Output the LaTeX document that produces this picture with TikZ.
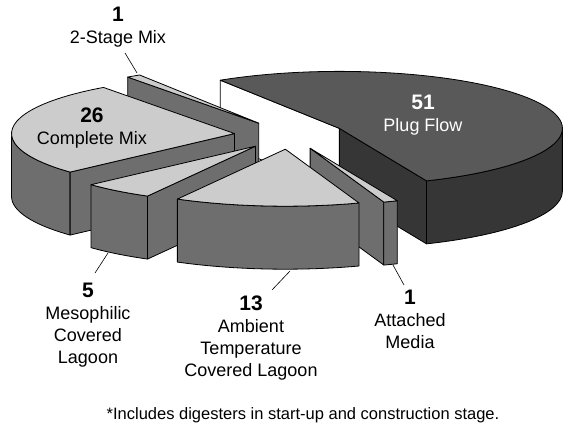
\documentclass[tikz,border=0pt]{standalone}
\usepackage{fontspec}
\setmainfont{Liberation Sans}
\definecolor{topgray}{gray}{0.80}
\definecolor{wallgray}{gray}{0.43}
\definecolor{plugtopgray}{gray}{0.35}
\definecolor{plugwallgray}{gray}{0.21}
\newcommand{\slicenum}[1]{{\fontsize{21}{22}\selectfont\bfseries #1}}

\begin{document}
\begin{tikzpicture}[x = 1pt, y = 1pt, line width = 0.8pt, line join = round,
	pie/.style = {x radius = 223pt, y radius = 57pt},
	topface/.style = {draw, fill = topgray},
	wallface/.style = {draw, fill = wallgray},
	plugtop/.style = {draw, fill = plugtopgray},
	plugwall/.style = {draw, fill = plugwallgray},
	cutface/.style = {draw, fill = white},
	slicelabel/.style = {align = center, inner sep = 0pt, anchor = north, font = \fontsize{18}{22}\selectfont},
	leader/.style = {line width = 0.6pt}]
	\useasboundingbox (0, 0) rectangle (580, 430);
	\coordinate (C) at (290, 295);
	\path (C) ++(27.64:55.75pt and 14.25pt) coordinate (plug);
	\path (C) ++(124.14:55.75pt and 14.25pt) coordinate (twostage);
	\path (C) ++(174.24:55.75pt and 14.25pt) coordinate (complete);
	\path (C) ++(231.77:55.75pt and 14.25pt) coordinate (meso);
	\path (C) ++(265.18:55.75pt and 14.25pt) coordinate (ambient);
	\path (C) ++(291.16:55.75pt and 14.25pt) coordinate (attached);
	% plug flow
	\draw[plugwall] (plug) -- ++(-67:223pt and 57pt) -- ++(0, -63) -- ++(113:223pt and 57pt) -- cycle;
	\draw[plugwall] (plug) ++(-67:223pt and 57pt) arc[pie, start angle = -67, end angle = 0] -- ++(0, -63) arc[pie, start angle = 0, end angle = -67] -- cycle;
	\draw[cutface] (plug) -- ++(122.28:223pt and 57pt) -- ++(0, -63) -- ++(302.28:223pt and 57pt) -- cycle;
	\draw[plugtop] (plug) -- ++(-67:223pt and 57pt) arc[pie, start angle = -67, end angle = 122.28] -- cycle;
	% 2-stage mix
	\draw[wallface] (twostage) -- ++(125.99:223pt and 57pt) -- ++(0, -63) -- ++(305.99:223pt and 57pt) -- cycle;
	\draw[topface] (twostage) -- ++(122.28:223pt and 57pt) arc[pie, start angle = 122.28, end angle = 125.99] -- cycle;
	% complete mix
	\draw[wallface] (complete) ++(180:223pt and 57pt) arc[pie, start angle = 180, end angle = 222.49] -- ++(0, -63) arc[pie, start angle = 222.49, end angle = 180] -- cycle;
	\draw[wallface] (complete) -- ++(222.49:223pt and 57pt) -- ++(0, -63) -- ++(42.49:223pt and 57pt) -- cycle;
	\draw[topface] (complete) -- ++(125.99:223pt and 57pt) arc[pie, start angle = 125.99, end angle = 222.49] -- cycle;
	% mesophilic lagoon
	\draw[wallface] (meso) ++(222.49:223pt and 57pt) arc[pie, start angle = 222.49, end angle = 241.05] -- ++(0, -63) arc[pie, start angle = 241.05, end angle = 222.49] -- cycle;
	\draw[wallface] (meso) -- ++(241.05:223pt and 57pt) -- ++(0, -63) -- ++(61.05:223pt and 57pt) -- cycle;
	\draw[topface] (meso) -- ++(222.49:223pt and 57pt) arc[pie, start angle = 222.49, end angle = 241.05] -- cycle;
	% attached media
	\draw[wallface] (attached) -- ++(289.30:223pt and 57pt) -- ++(0, -63) -- ++(109.30:223pt and 57pt) -- cycle;
	\draw[wallface] (attached) ++(289.30:223pt and 57pt) arc[pie, start angle = 289.30, end angle = 293] -- ++(0, -63) arc[pie, start angle = 293, end angle = 289.30] -- cycle;
	\draw[topface] (attached) -- ++(289.30:223pt and 57pt) arc[pie, start angle = 289.30, end angle = 293] -- cycle;
	% ambient lagoon
	\draw[wallface] (ambient) ++(241.05:223pt and 57pt) arc[pie, start angle = 241.05, end angle = 289.30] -- ++(0, -63) arc[pie, start angle = 289.30, end angle = 241.05] -- cycle;
	\draw[topface] (ambient) -- ++(241.05:223pt and 57pt) arc[pie, start angle = 241.05, end angle = 289.30] -- cycle;

	\node[slicelabel] (lbltwostage) at (118, 423) {\slicenum{1}\\2-Stage Mix};
	\node[slicelabel] (lblcomplete) at (92, 323) {\slicenum{26}\\Complete Mix};
	\node[slicelabel, text = white] (lblplug) at (423, 335) {\slicenum{51}\\Plug Flow};
	\node[slicelabel] (lblmeso) at (88, 147) {\slicenum{5}\\Mesophilic\\Covered\\Lagoon};
	\node[slicelabel] (lblambient) at (251, 135) {\slicenum{13}\\Ambient\\Temperature\\Covered Lagoon};
	\node[slicelabel] (lblattached) at (410, 140) {\slicenum{1}\\Attached\\Media};
	\node[font = \fontsize{16.5}{20}\selectfont] (note) at (303, 15) {*Includes digesters in start-up and construction stage.};

	\coordinate (tiptwostage) at (137, 357);
	\coordinate (tipmeso) at (108, 177);
	\coordinate (tipambient) at (290, 159);
	\coordinate (tipattached) at (393, 165);
	\draw[leader] (lbltwostage.south) ++(7, -5) -- (tiptwostage);
	\draw[leader] (lblmeso.north) ++(7, 10) -- (tipmeso);
	\draw[leader] (lblambient.north) ++(21, 5) -- (tipambient);
	\draw[leader] (lblattached.north) ++(-6, 5) -- (tipattached);
\end{tikzpicture}
\end{document}
